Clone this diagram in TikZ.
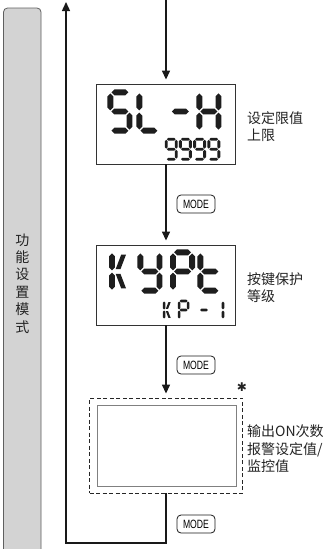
\documentclass[tikz,border=0pt]{standalone}
\usepackage{fontspec}
\usepackage{graphicx}
\setmainfont{Liberation Sans}
\newfontfamily\cjk{Noto Sans CJK SC}
\newfontfamily\dejavu{DejaVu Sans}
\usetikzlibrary{arrows.meta}
\definecolor{barfill}{RGB}{211,211,211}
\definecolor{bardraw}{RGB}{95,95,95}
\definecolor{segcol}{RGB}{30,30,30}
\definecolor{txtcol}{RGB}{35,35,35}
% seven-segment helpers (half thickness \hw, flat length \hl)
\def\hw{1.3}
\def\hl{6.2}
\newcommand{\hseg}[2]{\fill[segcol] (#1,#2) -- ++(\hw,-\hw) -- ++(\hl,0) -- ++(\hw,\hw) -- ++(-\hw,\hw) -- ++(-\hl,0) -- cycle;}
\newcommand{\vseg}[2]{\fill[segcol] (#1,#2) -- ++(\hw,\hw) -- ++(0,\hl) -- ++(-\hw,\hw) -- ++(-\hw,-\hw) -- ++(0,-\hl) -- cycle;}
\newcommand{\sA}{\hseg{0.6}{0}}
\newcommand{\sB}{\vseg{10}{0.6}}
\newcommand{\sC}{\vseg{10}{10.6}}
\newcommand{\sD}{\hseg{0.6}{20}}
\newcommand{\sE}{\vseg{0}{10.6}}
\newcommand{\sF}{\vseg{0}{0.6}}
\newcommand{\sG}{\hseg{0.6}{10}}
\newcommand{\sKu}{\fill[segcol] (1.9,8.8) -- (4.8,1.2) -- (7.3,1.2) -- (4.4,8.8) -- cycle;}
\newcommand{\sKl}{\fill[segcol] (1.9,11.2) -- (4.8,18.8) -- (7.3,18.8) -- (4.4,11.2) -- cycle;}
% #1 x, #2 y, #3 scale, #4 half thickness, #5 segments
\newcommand{\dig}[5]{\begin{scope}[shift={(#1,#2)},scale=#3]\def\hw{#4}\pgfmathsetmacro{\hl}{8.8-2*#4}#5\end{scope}}
\begin{document}
\begin{tikzpicture}[x=1pt,y=-1pt,
  line/.style={line width=1.4, draw=black!90},
  arr/.style={line, -{Triangle[length=9pt,width=8pt]}},
  display/.style={draw=black!80, fill=white, line width=0.9, minimum width=139, minimum height=80, inner sep=0},
  dashbox/.style={draw=black!85, dashed, dash pattern=on 4pt off 2.5pt, line width=0.9, minimum width=153, minimum height=95, inner sep=0},
  modebtn/.style={draw=black!90, fill=white, rounded corners=4, line width=0.8, minimum width=38, minimum height=18, inner sep=0, font=\fontsize{12}{12}\selectfont},
  lab/.style={font=\cjk\fontsize{14}{17.5}\selectfont, align=left, inner sep=0, text=txtcol, anchor=west}
]
\useasboundingbox (0,0) rectangle (333,549);
% side bar
\draw[fill=barfill, draw=bardraw, line width=0.8, rounded corners=4] (3.5,549) -- (3.5,8) -- (41,8) -- (41,549);
\node[font=\cjk\fontsize{14}{17.4}\selectfont, align=center, inner sep=0, text=txtcol] (bartext) at (22.5,283.5) {功\\能\\设\\置\\模\\式};

% displays
\coordinate (top) at (166,0);
\node[display] (d1) at (166,124) {};
\node[display] (d2) at (166,285) {};
\node[dashbox] (d3) at (166,445.5) {};
\node[display, draw=black!50, minimum height=81] (d3in) at (166.5,445.5) {};
\coordinate (bl) at (66,543);
\coordinate (ut) at (66,2);

% arrows
\draw[arr] (top) -- ([yshift=4pt]d1.north);
\draw[arr] (d1.south) -- ([yshift=4pt]d2.north);
\draw[arr] (d2.south) -- ([yshift=4pt]d3.north);
\draw[arr] (d3.south) -- (d3.south |- bl) -- (bl) -- (ut);

% mode buttons
\node[modebtn] (m1) at (196,204) {\scalebox{0.72}[1]{MODE}};
\node[modebtn] (m2) at (196,365) {\scalebox{0.72}[1]{MODE}};
\node[modebtn] (m3) at (196,524) {\scalebox{0.72}[1]{MODE}};

% labels
\node[lab] (l1) at (247,126.5) {设定限值\\上限};
\node[lab] (l2) at (247,287.5) {按键保护\\等级};
\node[lab] (l3) at (247,449) {输出ON次数\\报警设定值/\\监控值};
\node[font=\dejavu\bfseries\fontsize{12}{12}\selectfont, inner sep=0, text=txtcol] (ast) at (242,387) {✱};

% display 1: SL-H / 9999
\dig{110.3}{92.3}{1.92}{1.55}{\sA\sF\sG\sC\sD}
\dig{139.3}{92.3}{1.92}{1.55}{\sF\sE\sD}
\dig{170.8}{92.3}{1.92}{1.55}{\sG}
\dig{199.3}{92.3}{1.92}{1.55}{\sF\sB\sG\sE\sC}
\dig{166.2}{139.2}{1.0}{1.45}{\sA\sB\sC\sD\sF\sG}
\dig{180.4}{139.2}{1.0}{1.45}{\sA\sB\sC\sD\sF\sG}
\dig{194.6}{139.2}{1.0}{1.45}{\sA\sB\sC\sD\sF\sG}
\dig{208.8}{139.2}{1.0}{1.45}{\sA\sB\sC\sD\sF\sG}

% display 2: kYPt / kP-1
\dig{112}{252.3}{1.92}{1.55}{\sF\sE\sKu\sKl}
\dig{140.3}{252.3}{1.92}{1.55}{\sF\sB\sG\sC\sD}
\dig{173}{252.3}{1.92}{1.55}{\sA\sB\sF\sG\sE}
\dig{200.3}{252.3}{1.92}{1.55}{\sF\sE\sG\sD}
\dig{164.1}{301}{0.9}{1.45}{\sF\sE\sKu\sKl}
\dig{179.1}{301}{0.9}{1.45}{\sA\sB\sF\sG\sE}
\dig{199.5}{301}{0.9}{1.45}{\sG}
\dig{214}{301}{0.9}{1.45}{\sB\sC}
\end{tikzpicture}
\end{document}
